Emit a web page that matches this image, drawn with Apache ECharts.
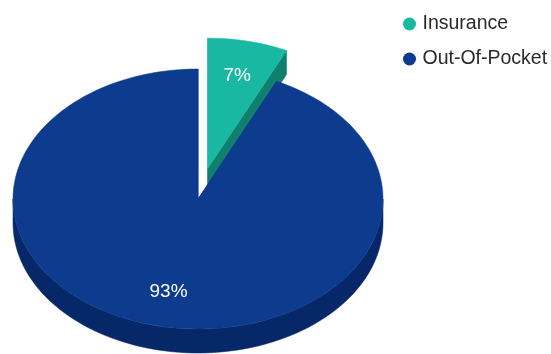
<!DOCTYPE html>
<html>
<head>
<meta charset="utf-8">
<script src="https://cdn.jsdelivr.net/npm/echarts@6/dist/echarts.min.js"></script>
<style>
  html, body { margin: 0; padding: 0; background: #fff; }
  #main { width: 551px; height: 354px; }
</style>
</head>
<body>
<div id="main"></div>
<script>
// data
var categories = ['Insurance', 'Out-Of-Pocket'];
var shares = [7, 93];

// look
var topColors = ['#19b8a2', '#0d3b8e'];
var sideColors = ['#0f7f70', '#072868'];
var pulled = [true, false];

var CX = 198, CY = 199, RX = 185, RY = 130, DEPTH = 24, PULL = 45, LABEL_K = 0.73;
var FONT = '"Liberation Sans", Arial, sans-serif';
var total = shares.reduce(function (a, b) { return a + b; }, 0);

// point on the ellipse, angle in degrees clockwise from 12 o'clock
function pt(cx, cy, deg, k) {
  var r = deg * Math.PI / 180;
  return [cx + RX * k * Math.sin(r), cy - RY * k * Math.cos(r)];
}
function arc(cx, cy, a0, a1, dy) {
  var pts = [];
  var n = Math.max(2, Math.ceil(Math.abs(a1 - a0) / 2));
  for (var i = 0; i <= n; i++) {
    var p = pt(cx, cy, a0 + (a1 - a0) * i / n, 1);
    pts.push([p[0], p[1] + dy]);
  }
  return pts;
}
function poly(points, color) {
  return {
    type: 'polygon',
    shape: { points: points },
    style: { fill: color, stroke: color, lineWidth: 0.5 }
  };
}

function sliceRenderer(idx) {
  return function (params, api) {
    var before = 0;
    for (var i = 0; i < idx; i++) before += shares[i];
    var v = api.value(0);
    var a0 = before / total * 360;
    var a1 = (before + v) / total * 360;
    var mid = (a0 + a1) / 2;
    var cx = CX, cy = CY;
    if (pulled[idx]) {
      var off = pt(0, 0, mid, PULL / RX);
      cx += off[0];
      cy += off[1];
    }
    var kids = [];
    var side = sideColors[idx];
    // radial faces
    [a0, a1].forEach(function (a) {
      var p = pt(cx, cy, a, 1);
      kids.push(poly([[cx, cy], p, [p[0], p[1] + DEPTH], [cx, cy + DEPTH]], side));
    });
    // outer wall, front half only
    var s = Math.max(a0, 90), e = Math.min(a1, 270);
    if (e > s) {
      kids.push(poly(arc(cx, cy, s, e, 0).concat(arc(cx, cy, e, s, DEPTH)), side));
    }
    // top face
    kids.push(poly([[cx, cy]].concat(arc(cx, cy, a0, a1, 0)), topColors[idx]));
    // label
    var lp = pt(cx, cy, mid, LABEL_K);
    kids.push({
      type: 'text',
      x: lp[0], y: lp[1],
      style: {
        text: Math.round(v / total * 100) + '%',
        fill: '#fff',
        fontSize: 19,
        fontFamily: FONT,
        align: 'center',
        verticalAlign: 'middle'
      }
    });
    return { type: 'group', children: kids };
  };
}

var chart = echarts.init(document.getElementById('main'));
chart.setOption({
  animation: false,
  legend: {
    orient: 'vertical',
    left: 398,
    top: 9,
    icon: 'circle',
    itemWidth: 16,
    itemHeight: 13,
    itemGap: 15,
    textStyle: { fontSize: 19.5, color: '#2a2a2a', fontFamily: FONT },
    data: categories
  },
  series: categories.map(function (name, i) {
    return {
      type: 'custom',
      name: name,
      coordinateSystem: 'none',
      itemStyle: { color: topColors[i] },
      silent: true,
      data: [[shares[i]]],
      renderItem: sliceRenderer(i)
    };
  })
});
</script>
</body>
</html>
